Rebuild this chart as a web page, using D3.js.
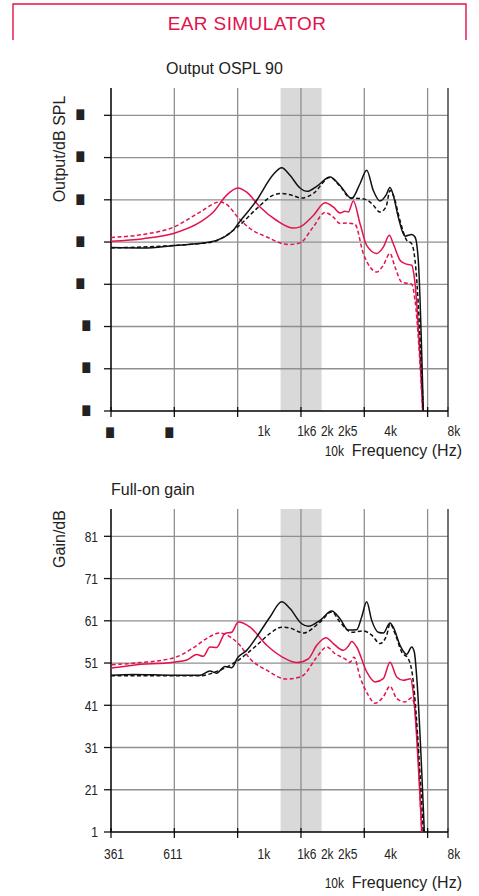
<!DOCTYPE html>
<html>
<head>
<meta charset="utf-8">
<script src="https://cdn.jsdelivr.net/npm/d3@7"></script>
<style>
  body { margin: 0; background: #fff; }
</style>
</head>
<body>
<div id="chart"></div>
<script>
// frequency axis, Hz
const freqDomain = [187.5, 7500]
const gridFreqs = [375, 750, 1500, 3000, 6000]
const bandFreqs = [1200, 1880]
const freqLabelValues = [1000, 1600, 2000, 2500, 4000, 8000]
const freqLabelText = ["1k", "1k6", "2k", "2k5", "4k", "8k"]
const lowLabelValues = [187.5, 375]
const lowLabelsOspl = ["\u2588", "\u2588"]
const lowLabelsGain = ["361", "611"]

// Output OSPL 90 (dB SPL) - labels came out as missing glyphs in the original
const osplTicks = [70, 80, 90, 100, 110, 120, 130, 140]
const osplTickLabels = osplTicks.map(() => "\u2588")
const osplBlackSolid = [[187.5,108.7],[267,108.6],[375,109.2],[554,110.0],[715,112.8],[751,114.2],[924,119.9],[1108,126.0],[1215,127.6],[1330,125.8],[1484,122.8],[1608,122.0],[1783,123.2],[2062,125.4],[2300,123.4],[2613,120.3],[2862,123.8],[3080,127.0],[3311,122.2],[3562,119.7],[3805,121.1],[3975,122.9],[4121,121.1],[4353,115.9],[4685,111.4],[5041,111.8],[5227,111.2],[5418,105.7],[5724,70]]
const osplBlackDash = [[187.5,108.6],[554,109.9],[751,113.6],[924,117.9],[1108,121.1],[1215,121.5],[1356,121.1],[1513,120.4],[1717,121.5],[2062,125.3],[2300,123.2],[2565,120.5],[2862,120.3],[3080,120.0],[3311,118.7],[3562,117.1],[3805,118.3],[3975,122.2],[4121,121.1],[4435,115.1],[4773,110.4],[5041,109.6],[5227,105.7],[5724,70]]
const osplRedSolid = [[187.5,110.2],[267,110.8],[375,112.1],[497,114.7],[575,117.1],[665,121.1],[751,122.8],[828,121.8],[958,118.3],[1150,115.1],[1379,113.3],[1484,113.6],[1717,116.3],[1952,119.3],[2137,118.3],[2300,116.9],[2430,117.3],[2519,117.1],[2661,119.7],[2862,114.4],[3080,109.2],[3436,107.3],[3694,108.8],[3945,111.6],[4121,109.6],[4435,105.7],[4685,104.9],[5041,104.5],[5227,100.2],[5688,70]]
const osplRedDash = [[187.5,111.1],[267,111.8],[375,113.6],[497,117.1],[618,119.5],[665,118.9],[751,115.9],[859,113.2],[1031,111.2],[1306,109.4],[1484,109.8],[1717,113.6],[1952,117.0],[2137,115.9],[2300,114.4],[2475,114.5],[2710,114.2],[2968,107.3],[3193,104.1],[3436,102.9],[3694,104.5],[3975,107.3],[4198,104.1],[4518,100.5],[5041,100.0],[5227,96.2],[5688,70]]

// Full-on gain (dB)
const gainTicks = [11, 21, 31, 41, 51, 61, 71, 81]
const gainTickLabels = ["1", "21", "31", "41", "51", "61", "71", "81"]
const gainBlackSolid = [[187.5,48.1],[239,48.3],[375,48.1],[497,48.1],[554,49.1],[596,48.6],[653,50.2],[703,49.9],[751,52.3],[828,54.0],[924,57.2],[1069,61.9],[1215,65.5],[1330,63.9],[1513,60.3],[1626,59.7],[1848,61.1],[2100,63.3],[2300,61.5],[2519,58.8],[2760,58.9],[2915,61.9],[3080,65.5],[3253,61.1],[3497,58.3],[3694,58.1],[3975,60.5],[4121,59.5],[4435,55.2],[4773,53.1],[5041,54.8],[5188,53.6],[5325,47.7],[5788,11]]
const gainBlackDash = [[187.5,48.0],[497,48.0],[596,49.0],[751,51.6],[924,55.2],[1069,58.0],[1215,59.5],[1330,59.3],[1484,58.3],[1539,58.1],[1848,60.7],[2100,63.1],[2300,60.7],[2613,58.3],[2968,58.6],[3253,57.6],[3562,55.6],[3834,57.6],[3975,60.3],[4198,58.0],[4518,53.6],[4856,52.0],[5041,49.3],[5724,11]]
const gainRedSolid = [[187.5,49.8],[239,50.5],[371,51.2],[430,51.7],[479,53.0],[515,52.6],[554,54.8],[596,54.7],[653,58.0],[703,58.3],[755,60.7],[859,59.5],[1031,55.2],[1236,52.3],[1432,51.1],[1626,52.0],[1783,55.2],[1973,57.0],[2137,55.6],[2385,54.0],[2519,55.0],[2613,56.1],[2760,54.8],[3080,48.9],[3373,46.5],[3694,47.3],[3975,51.2],[4278,47.7],[4598,46.9],[4986,47.3],[5130,43.8],[5625,11]]
const gainRedDash = [[189,50.6],[258,51.1],[371,52.2],[462,54.6],[534,56.8],[618,58.1],[690,57.2],[769,55.2],[859,52.0],[1031,49.3],[1283,47.2],[1484,47.7],[1539,48.1],[1783,52.4],[1989,54.8],[2178,53.2],[2430,52.0],[2565,51.2],[2681,52.4],[2862,47.7],[3134,43.4],[3373,41.5],[3694,43.0],[3975,45.5],[4278,42.6],[4685,41.8],[5041,42.8],[5188,41.0],[5625,11]]

const RED = "#e3124b"
const FONT = "'Liberation Sans', Arial, sans-serif"
const width = 479, height = 896
const left = 111, right = 448
const squeeze = 0.8 // tick labels are set in a condensed face

const svg = d3.select("#chart").append("svg")
  .attr("width", width)
  .attr("height", height)

// header box
svg.append("path")
   .attr("d", "M13,40V4H466V40")
   .attr("fill", "none")
   .attr("stroke", RED)
   .attr("stroke-width", 1.4)
svg.append("text")
   .attr("x", 247).attr("y", 30)
   .attr("text-anchor", "middle")
   .attr("font-family", FONT).attr("font-size", 19)
   .attr("letter-spacing", 0.4)
   .attr("fill", RED)
   .text("EAR SIMULATOR")

function narrowText(sel, xf, yf, sx) {
  return sel.attr("transform", (d, i) => `translate(${xf(d, i)},${yf(d, i)}) scale(${sx || squeeze},1)`)
}

function panel(cfg) {
  const x = d3.scaleLog().domain(freqDomain).range([left, right])
  const y = d3.scaleLinear().domain(cfg.yDomain).range([cfg.bottom, cfg.top])
  const g = svg.append("g")

  g.append("rect")
   .attr("x", x(bandFreqs[0]))
   .attr("width", x(bandFreqs[1]) - x(bandFreqs[0]))
   .attr("y", cfg.top)
   .attr("height", cfg.bottom - cfg.top)
   .attr("fill", "#d9d9d9")

  // horizontal grid + left ticks
  g.selectAll(".hgrid").data(cfg.ticks.slice(1)).join("line")
   .attr("x1", left).attr("x2", right)
   .attr("y1", d => y(d)).attr("y2", d => y(d))
   .attr("stroke", "#8f8f8f")
   .attr("stroke-width", 1.3)
  g.selectAll(".ytick").data(cfg.ticks).join("line")
   .attr("x1", left - 7).attr("x2", left)
   .attr("y1", d => y(d)).attr("y2", d => y(d))
   .attr("stroke", "#111").attr("stroke-width", 1.3)

  // vertical grid, ticks run below the axis
  g.selectAll(".vgrid").data(gridFreqs).join("line")
   .attr("x1", d => x(d)).attr("x2", d => x(d))
   .attr("y1", cfg.top).attr("y2", cfg.bottom)
   .attr("stroke", "#8f8f8f").attr("stroke-width", 1.3)
  g.selectAll(".xtick").data([freqDomain[0], ...gridFreqs, freqDomain[1]]).join("line")
   .attr("x1", d => x(d)).attr("x2", d => x(d))
   .attr("y1", cfg.bottom - 4).attr("y2", cfg.bottom + 6)
   .attr("stroke", "#111").attr("stroke-width", 1.3)

  // frame
  g.append("line").attr("x1", right).attr("x2", right)
   .attr("y1", cfg.top).attr("y2", cfg.bottom)
   .attr("stroke", "#444").attr("stroke-width", 1.5)
  g.append("line").attr("x1", left).attr("x2", left)
   .attr("y1", cfg.top).attr("y2", cfg.bottom)
   .attr("stroke", "#000").attr("stroke-width", 1.5)
  g.append("line").attr("x1", left).attr("x2", right)
   .attr("y1", cfg.bottom).attr("y2", cfg.bottom)
   .attr("stroke", "#000").attr("stroke-width", 1.5)

  // curves
  const line = d3.line()
    .x(d => x(d[0]))
    .y(d => y(d[1]))
    .curve(d3.curveMonotoneX)
  cfg.series.forEach(s => {
    g.append("path")
     .datum(s.data)
     .attr("d", line)
     .attr("fill", "none")
     .attr("stroke", s.color)
     .attr("stroke-width", 1.5)
     .attr("stroke-dasharray", s.dash ? "4,2.5" : null)
  })

  // y labels
  g.selectAll(".ylab").data(cfg.ticks).join("text")
   .call(narrowText, d => cfg.yLabelX(d), d => y(d), cfg.labelSqueeze)
   .attr("dy", cfg.yLabelDy)
   .attr("text-anchor", "end")
   .attr("font-family", cfg.labelFont).attr("font-size", cfg.yLabelSize)
   .attr("fill", "#222")
   .text((d, i) => cfg.yLabels[i])

  // x labels
  const xl = g.append("g")
    .attr("font-family", FONT).attr("font-size", 15)
    .attr("fill", "#222").attr("text-anchor", "middle")
  xl.selectAll(".lowlab").data(lowLabelValues).join("text")
    .call(narrowText, (d, i) => x(d) + cfg.lowDx[i], () => cfg.bottom + cfg.labelDy, cfg.labelSqueeze)
    .attr("font-family", cfg.labelFont)
    .attr("font-size", cfg.lowSize)
    .text((d, i) => cfg.lowLabels[i])
  xl.selectAll(".flab").data(freqLabelValues).join("text")
    .call(narrowText, d => x(d), () => cfg.bottom + cfg.labelDy)
    .text((d, i) => freqLabelText[i])

  g.append("text")
   .attr("transform", `translate(344,${cfg.bottom + cfg.titleDy}) scale(${squeeze},1)`)
   .attr("text-anchor", "end")
   .attr("font-family", FONT).attr("font-size", 15)
   .attr("fill", "#222")
   .text("10k")
  g.append("text")
   .attr("x", 462).attr("y", cfg.bottom + cfg.titleDy)
   .attr("text-anchor", "end")
   .attr("font-family", FONT).attr("font-size", 16)
   .attr("fill", "#222")
   .text("Frequency (Hz)")

  // titles
  g.append("text")
   .attr("x", cfg.titleX).attr("y", cfg.top - 14)
   .attr("font-family", FONT).attr("font-size", 16)
   .attr("fill", "#222")
   .text(cfg.title)
  g.append("text")
   .attr("transform", `translate(65,${cfg.yTitleY}) rotate(-90)`)
   .attr("text-anchor", "middle")
   .attr("font-family", FONT).attr("font-size", 16)
   .attr("fill", "#222")
   .text(cfg.yTitle)
}

const pxPerTen = 42.24
panel({
  top: 88, bottom: 411,
  yDomain: [70, 70 + (411 - 88) / pxPerTen * 10],
  ticks: osplTicks,
  yLabels: osplTickLabels,
  labelFont: "'DejaVu Sans', sans-serif", labelSqueeze: 1.1,
  yLabelX: d => d >= 100 ? 84 : 90, yLabelSize: 9, yLabelDy: "0.3em",
  lowLabels: lowLabelsOspl, lowDx: [-1, -5], lowSize: 9,
  labelDy: 25, titleDy: 45,
  title: "Output OSPL 90", titleX: 166,
  yTitle: "Output/dB SPL", yTitleY: 149,
  series: [
    { data: osplRedDash, color: RED, dash: true },
    { data: osplRedSolid, color: RED, dash: false },
    { data: osplBlackDash, color: "#111", dash: true },
    { data: osplBlackSolid, color: "#111", dash: false }
  ]
})

panel({
  top: 509, bottom: 832,
  yDomain: [11, 11 + (832 - 509) / pxPerTen * 10],
  ticks: gainTicks,
  yLabels: gainTickLabels,
  labelFont: FONT, labelSqueeze: squeeze,
  yLabelX: () => 98, yLabelSize: 15, yLabelDy: "0.36em",
  lowLabels: lowLabelsGain, lowDx: [3, -1.5], lowSize: 15,
  labelDy: 27, titleDy: 56,
  title: "Full-on gain", titleX: 111,
  yTitle: "Gain/dB", yTitleY: 539,
  series: [
    { data: gainRedDash, color: RED, dash: true },
    { data: gainRedSolid, color: RED, dash: false },
    { data: gainBlackDash, color: "#111", dash: true },
    { data: gainBlackSolid, color: "#111", dash: false }
  ]
})
</script>
</body>
</html>
